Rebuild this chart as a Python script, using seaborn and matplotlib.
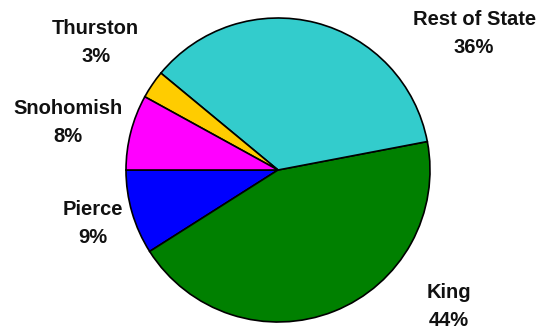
import matplotlib
matplotlib.use("Agg")
import matplotlib.pyplot as plt
import seaborn as sns

# Data (drawn counter-clockwise starting at 9 o'clock)
categories = ["Pierce", "King", "Rest of State", "Thurston", "Snohomish"]
shares = [9, 44, 36, 3, 8]
colors = ["#0000FF", "#008000", "#33CCCC", "#FFCC00", "#FF00FF"]

sns.set_theme(style="white")
plt.rcParams['font.family'] = ['Liberation Sans', 'DejaVu Sans']

fig = plt.figure(figsize=(5.46, 3.29), dpi=100)
ax = fig.add_axes([0, 0, 1, 1])

ax.pie(shares, colors=colors, startangle=180, counterclock=True,
       wedgeprops=dict(edgecolor="black", linewidth=1.2))

# label positions in pie-radius units
label_pos = {
    "Thurston": (-1.20, 0.84),
    "Snohomish": (-1.38, 0.31),
    "Pierce": (-1.22, -0.355),
    "Rest of State": (1.29, 0.90),
    "King": (1.125, -0.895),
}
for cat, val in zip(categories, shares):
    x, y = label_pos[cat]
    ax.text(x, y, f"{cat}\n{val}%", ha="center", va="center",
            fontsize=14.5, fontweight="bold", color="#111111",
            linespacing=1.6)

cx, cy, r = 278, 170, 152
W, H = 546, 329
ax.set_aspect('auto')
ax.set_xlim((0 - cx) / r, (W - cx) / r)
ax.set_ylim((cy - H) / r, cy / r)
ax.axis('off')

fig.savefig("out.png", dpi=100)
